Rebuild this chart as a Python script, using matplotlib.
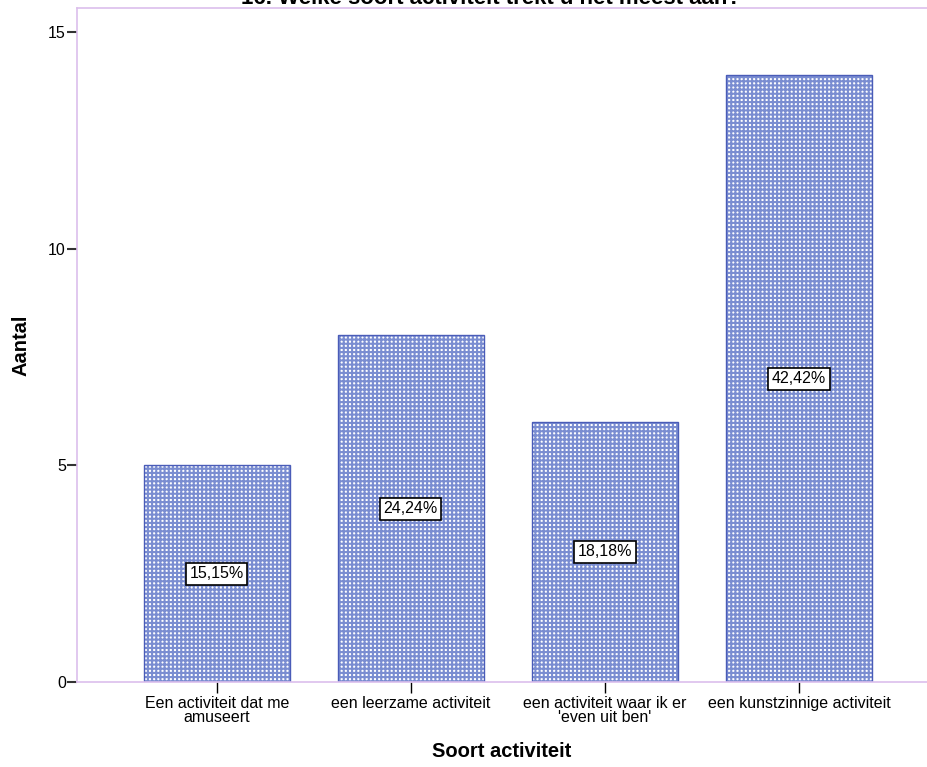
import matplotlib
matplotlib.use("Agg")
import matplotlib.pyplot as plt

categories = ["Een activiteit dat me\namuseert", "een leerzame activiteit",
              "een activiteit waar ik er\n'even uit ben'", "een kunstzinnige activiteit"]
counts = [5, 8, 6, 14]
pct_labels = ["15,15%", "24,24%", "18,18%", "42,42%"]
yticks = [0, 5, 10, 15]

HATCH = "#7a8dd1"
EDGE = "#4a5cb8"
SPINE = "#dcbfec"

plt.rcParams["font.family"] = ["Liberation Sans", "DejaVu Sans"]
plt.rcParams["hatch.linewidth"] = 1.5

fig = plt.figure(figsize=(9.27, 7.67), dpi=100)
ax = fig.add_axes([77 / 927, 85 / 767, 850 / 927, 674 / 767])

x = range(len(categories))
ax.bar(x, counts, width=0.75, color="white", edgecolor=HATCH, hatch="++++", linewidth=0)
ax.bar(x, counts, width=0.75, fill=False, edgecolor=EDGE, linewidth=1.0)

for i, (c, p) in enumerate(zip(counts, pct_labels)):
    ax.text(i, c / 2, p, ha="center", va="center", fontsize=11.5,
            bbox=dict(boxstyle="square,pad=0.22", fc="white", ec="black", lw=1.2))

ax.set_xlim(-0.72, 3.66)
ax.set_ylim(0, 15.55)
ax.set_yticks(yticks)
ax.set_xticks(list(x))
ax.set_xticklabels(categories, fontsize=11.5, linespacing=0.95)
ax.tick_params(axis="y", length=7, width=1.5, color="#333333", labelsize=11.5, pad=1)
ax.tick_params(axis="x", length=8, width=1, color="black", pad=2)

for s in ["left", "bottom", "top"]:
    ax.spines[s].set_color(SPINE)
    ax.spines[s].set_linewidth(1.2)
ax.spines["right"].set_visible(False)

ax.set_ylabel("Aantal", fontsize=14.5, fontweight="bold", labelpad=13)
ax.set_xlabel("Soort activiteit", fontsize=14.5, fontweight="bold", labelpad=12)

fig.text(0.53, 1 - 4 / 767, "16. Welke soort activiteit trekt u het meest aan?",
         ha="center", va="baseline", fontsize=16, fontweight="bold")

fig.savefig("out.png", dpi=100)
